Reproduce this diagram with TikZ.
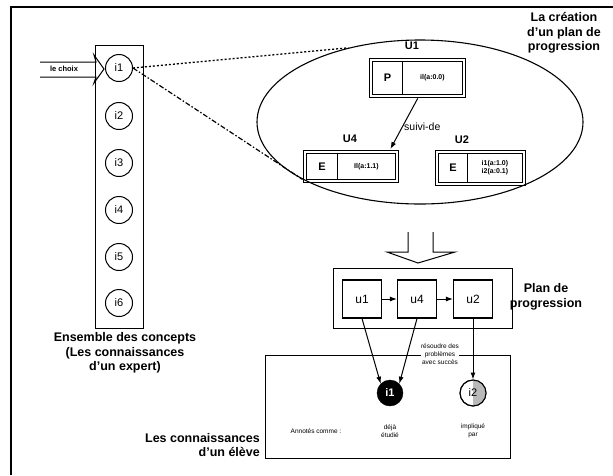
\documentclass[tikz,border=0pt]{standalone}
\usepackage{fontspec}
\setmainfont{Liberation Sans}
\usetikzlibrary{shapes.geometric,arrows.meta,calc}
\begin{document}
\begin{tikzpicture}[x=1pt,y=-1pt,
  conc/.style={circle,draw,line width=1pt,minimum size=27pt,inner sep=0pt,font=\fontsize{11}{11}\selectfont},
  big/.style={font=\bfseries\fontsize{12.5}{14.5}\selectfont,align=center},
  tiny/.style={font=\fontsize{6.5}{8}\selectfont,align=center},
  obox/.style={draw,line width=1.4pt,inner sep=0pt,anchor=north west},
  ibox/.style={draw,line width=0.9pt,inner sep=0pt,anchor=north west,align=center},
  cell/.style={font=\bfseries\fontsize{7}{8}\selectfont},
  letter/.style={font=\bfseries\fontsize{11}{11}\selectfont},
  ubox/.style={draw,line width=1.1pt,minimum width=39pt,minimum height=38pt,inner sep=0pt,font=\fontsize{12}{12}\selectfont},
  arr/.style={-{Latex[length=7pt,width=5pt]},line width=1pt},
  every node/.style={inner sep=0pt}]
\useasboundingbox (0,0) rectangle (613,475);
% outer frame
\draw[line width=1.8pt] (11,475) -- (11,7) -- (613,7);
% concept column
\node[draw,line width=1.3pt,anchor=north west,minimum width=48pt,minimum height=283pt] (col) at (95,45) {};
\node[conc] (i1) at (119,68) {i1};
\node[conc] (i2) at (119,116) {i2};
\node[conc] (i3) at (119,163) {i3};
\node[conc] (i4) at (119,210) {i4};
\node[conc] (i5) at (119,257) {i5};
\node[conc] (i6) at (119,303) {i6};
\node[big] (ens) at (125,353) {Ensemble des concepts\\(Les connaissances\\d'un expert)};
% le choix block arrow
\draw[line width=1pt] (40,62) -- (96,62) -- (94,55) -- (104,69) -- (94,83) -- (96,77) -- (40,77);
\node[font=\bfseries\fontsize{7.5}{8}\selectfont] (choix) at (64,69) {le choix};
% ellipse
\node[ellipse,draw,line width=1.1pt,minimum width=326pt,minimum height=164pt] (ell) at (420,122) {};
\draw[line width=1.3pt,dash pattern=on 2pt off 2pt] (i1.east) -- (ell.134);
\draw[line width=1.2pt,dash pattern=on 5pt off 2pt on 1.5pt off 2pt] (i1.east) -- (ell.206);
\node[big] (titre) at (564,33) {La création\\d'un plan de\\progression};
% U1
\node[letter] (lu1) at (412,46) {U1};
\node[obox,minimum width=96pt,minimum height=39pt] (u1box) at (369,58) {};
\node[ibox,letter,minimum width=30pt,minimum height=33pt] (u1p) at (372,61) {P};
\node[ibox,cell,minimum width=60pt,minimum height=33pt] (u1i) at (402,61) {il(a:0.0)};
% U4
\node[letter] (lu4) at (350,139) {U4};
\node[obox,minimum width=95pt,minimum height=32pt] (u4box) at (303,150) {};
\node[ibox,letter,minimum width=31pt,minimum height=26pt] (u4e) at (306,153) {E};
\node[ibox,cell,minimum width=58pt,minimum height=26pt] (u4i) at (337,153) {Il(a:1.1)};
% U2
\node[letter] (lu2) at (462,140) {U2};
\node[obox,minimum width=90pt,minimum height=35pt] (u2box) at (435,150) {};
\node[ibox,letter,minimum width=29pt,minimum height=29pt] (u2e) at (438,153) {E};
\node[ibox,cell,minimum width=55pt,minimum height=29pt] (u2i) at (467,153) {i1(a:1.0)\\i2(a:0.1)};
% suivi-de
\draw[arr] (u1box.south) -- ($(u4box.north east)+(-9,-1)$);
\node[font=\fontsize{10.5}{10.5}\selectfont,anchor=west] (suivi) at (404,127) {suivi-de};
% down block arrow
\draw[line width=1pt] (408,232) -- (408,252) -- (387,252) -- (418,263) -- (455,252) -- (433,252) -- (433,232);
% plan de progression
\node[draw,line width=1.3pt,anchor=north west,minimum width=179pt,minimum height=60pt] (plan) at (333,268) {};
\node[ubox] (pu1) at (362,299) {u1};
\node[ubox] (pu4) at (417,299) {u4};
\node[ubox] (pu2) at (473,299) {u2};
\draw[arr] (pu1) -- (pu4);
\draw[arr] (pu4) -- (pu2);
\node[big] (plantxt) at (546,297) {Plan de\\progression};
% student box
\node[draw,line width=1.3pt,anchor=north west,minimum width=245pt,minimum height=103pt] (eleve) at (265,355) {};
\node[big,align=right,anchor=east] (eltxt) at (260,445) {Les connaissances\\d'un élève};
\node[circle,fill=black,draw,minimum size=26pt,text=white,font=\bfseries\fontsize{11}{11}\selectfont] (e1) at (390,393) {i1};
\node[circle,draw,line width=1pt,minimum size=26pt] (e2) at (473,393) {};
\fill[gray!55] (e2.north) arc[start angle=90,end angle=-90,radius=13pt] -- cycle;
\draw[line width=1pt] (e2.center) circle[radius=13pt];
\node[font=\fontsize{11}{11}\selectfont] (e2t) at (473,393) {i2};
\node[tiny] (annot) at (316,431) {Annotés comme :};
\node[tiny] (deja) at (390,431) {déjà\\étudié};
\node[tiny] (impl) at (473,431) {impliqué\\par};
\draw[arr] (pu1.south) -- (e1.north west);
\draw[arr] (pu4.south) -- (e1.north east);
\draw[arr] (pu2.south) -- (e2.north);
\node[tiny,fill=white,inner sep=0.5pt] (resoudre) at (440,354) {résoudre des\\problèmes\\avec succès};
\end{tikzpicture}
\end{document}
